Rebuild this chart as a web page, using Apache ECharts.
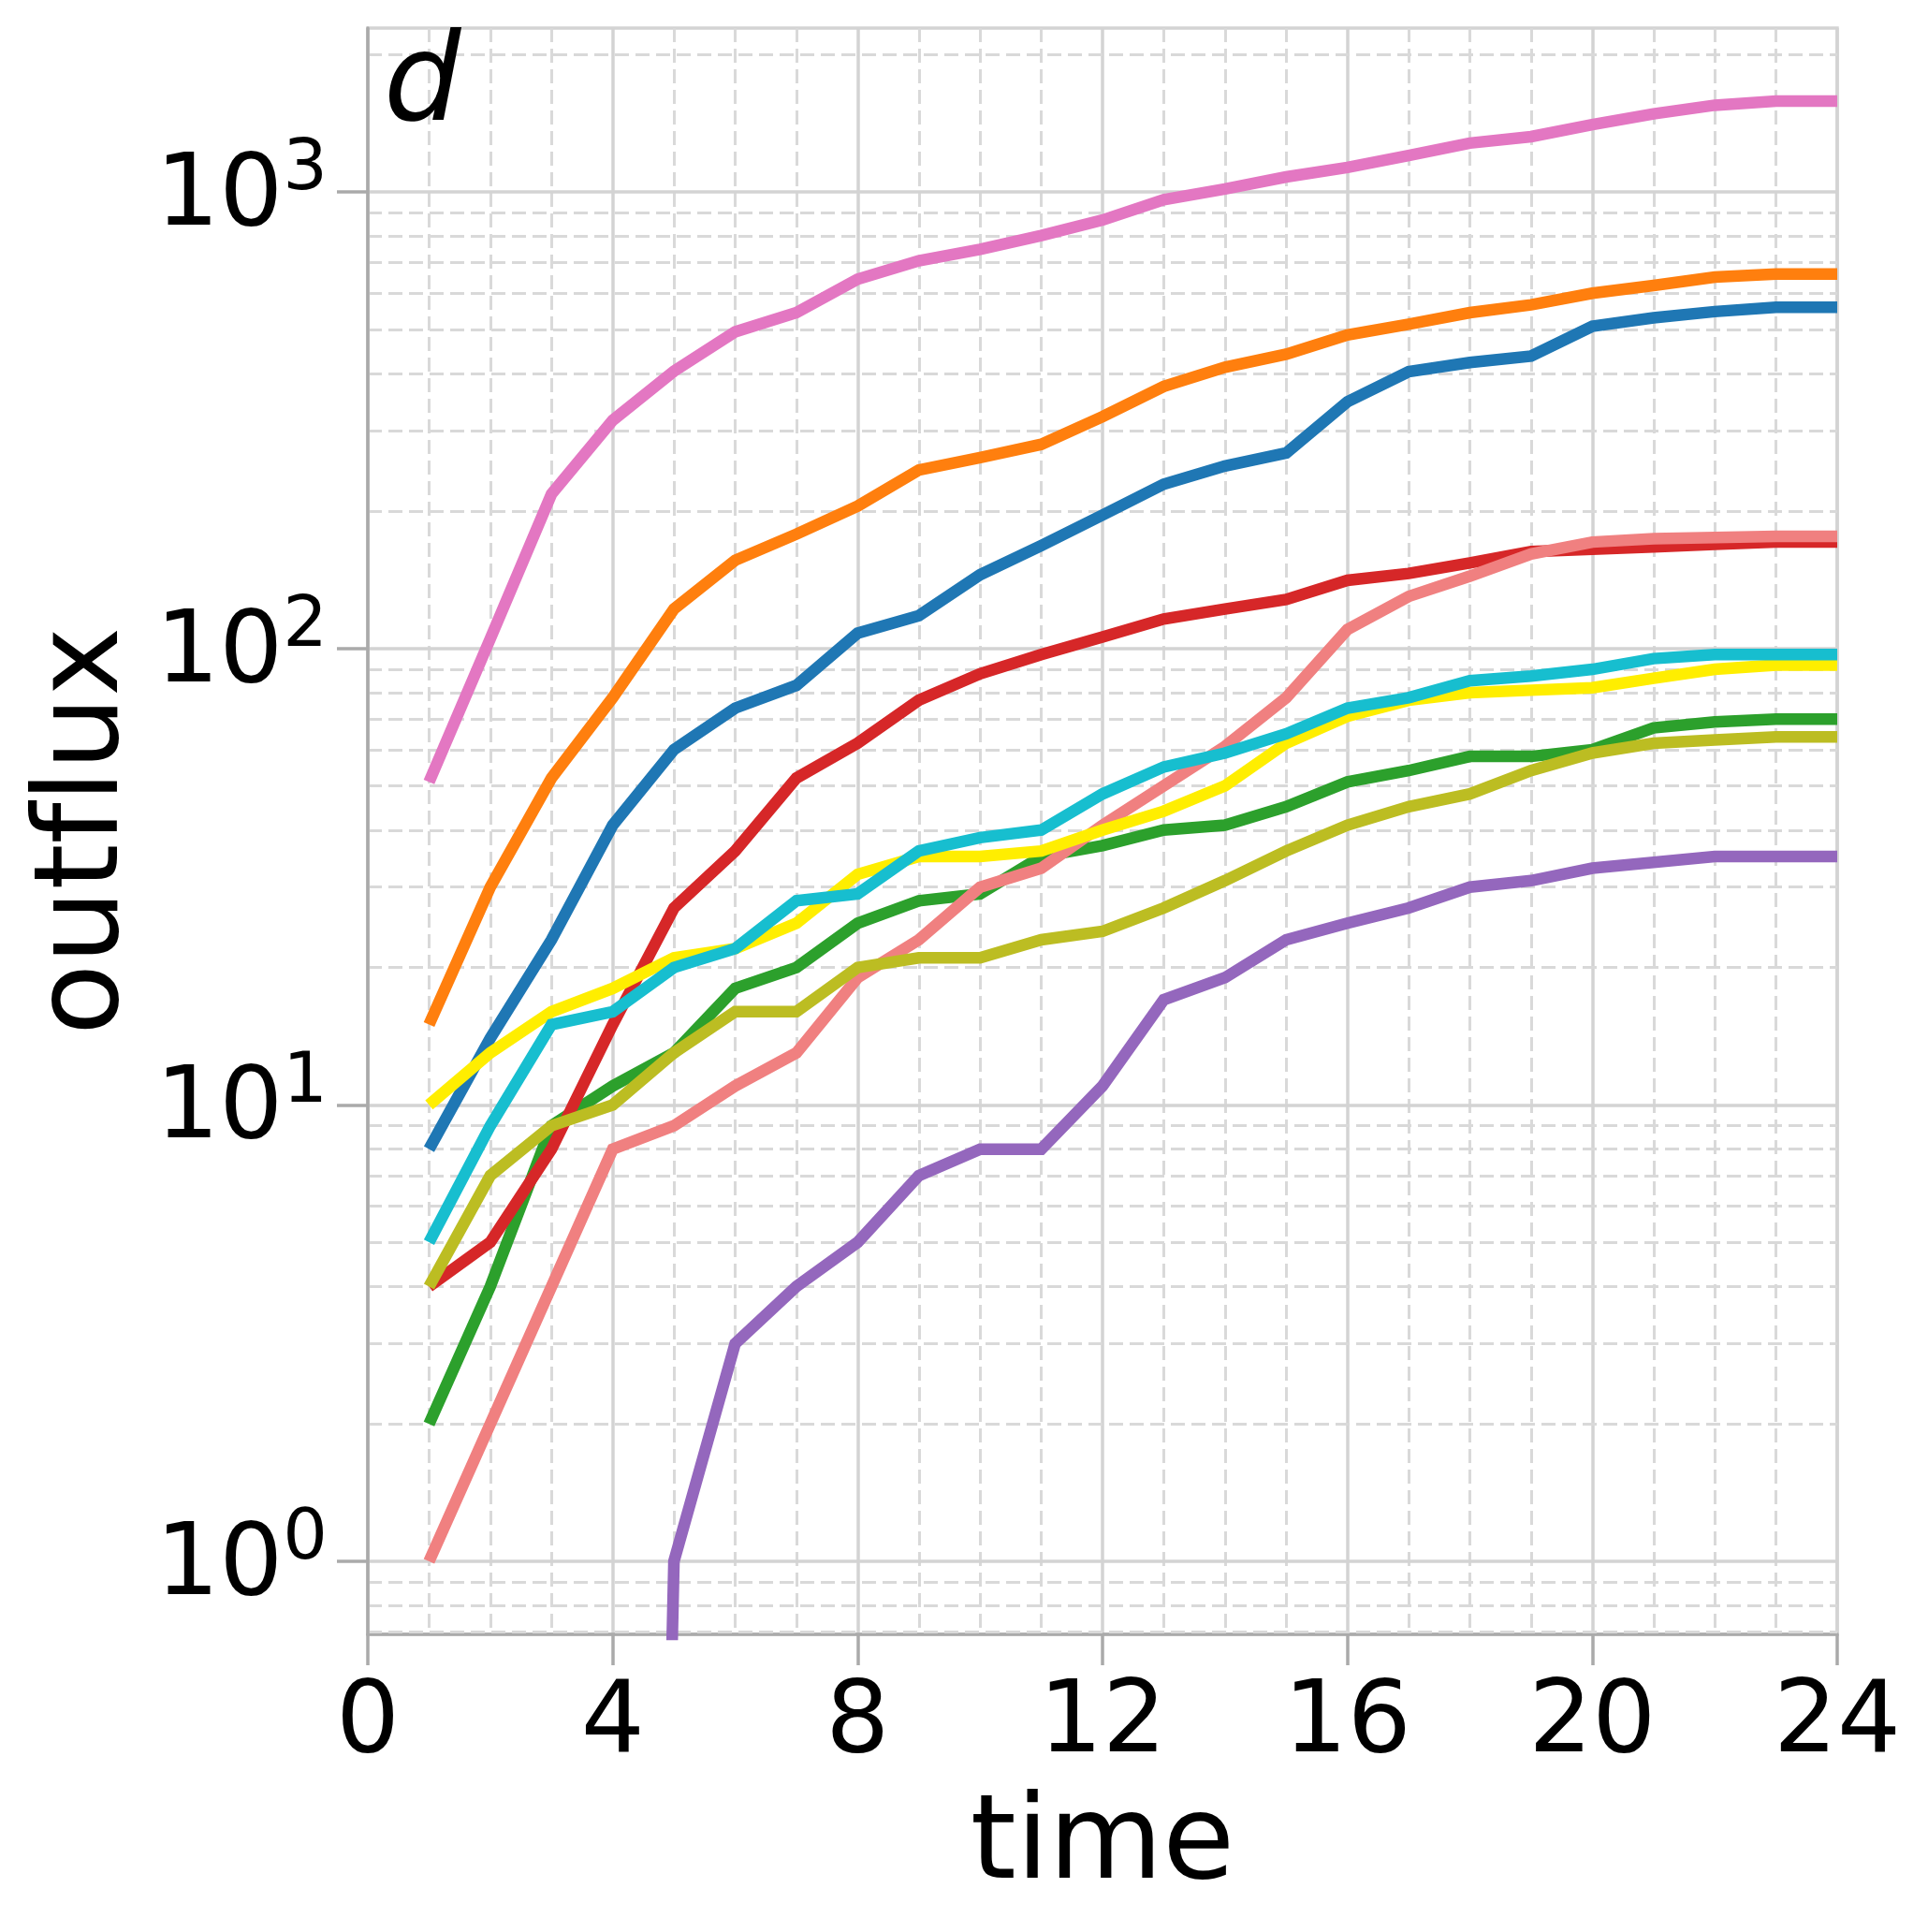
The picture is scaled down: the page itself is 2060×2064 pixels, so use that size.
<!DOCTYPE html>
<html>
<head>
<meta charset="utf-8">
<title>outflux</title>
<script src="https://cdn.jsdelivr.net/npm/echarts@6/dist/echarts.min.js"></script>
<style>
  html, body { margin: 0; padding: 0; background: #ffffff; }
  #main_chart_outflux { width: 2060px; height: 2064px; }
</style>
</head>
<body>
<div id="main_chart_outflux"></div>
<script>
var times = [1, 2, 3, 4, 5, 6, 7, 8, 9, 10, 11, 12, 13, 14, 15, 16, 17, 18, 19, 20, 21, 22, 23, 24];

var blue   = [8, 14, 23, 41, 60, 74, 83, 108, 118, 145, 168, 196, 229, 251, 268, 347, 404, 423, 437, 508, 530, 547, 559, 559];
var orange = [15, 30, 52, 78, 122, 156, 178, 205, 246, 262, 280, 322, 375, 413, 441, 486, 513, 544, 566, 600, 624, 651, 661, 661];
var green  = [2, 4, 9, 11, 13, 18, 20, 25, 28, 29, 35, 37, 40, 41, 45, 51, 54, 58, 58, 60, 67, 69, 70, 70];
var red    = [4, 5, 8, 15, 27, 36, 52, 62, 77, 88, 97, 106, 116, 122, 128, 141, 146, 154, 163, 165, 167, 169, 171, 171];
var purple = [0, 0, 0, 0, 1, 3, 4, 5, 7, 8, 8, 11, 17, 19, 23, 25, 27, 30, 31, 33, 34, 35, 35, 35];
var salmon = [1, 2, 4, 8, 9, 11, 13, 19, 23, 30, 33, 41, 50, 61, 78, 110, 130, 144, 161, 171, 174, 175, 176, 176];
var pink   = [51, 105, 218, 316, 405, 494, 544, 644, 707, 749, 803, 868, 962, 1015, 1079, 1132, 1202, 1280, 1322, 1405, 1483, 1549, 1582, 1582];
var yellow = [10, 13, 16, 18, 21, 22, 25, 32, 35, 35, 36, 40, 44, 50, 62, 71, 77, 80, 81, 82, 86, 90, 92, 92];
var olive  = [4, 7, 9, 10, 13, 16, 16, 20, 21, 21, 23, 24, 27, 31, 36, 41, 45, 48, 54, 59, 62, 63, 64, 64];
var cyan   = [5, 9, 15, 16, 20, 22, 28, 29, 36, 38.5, 40, 48, 55, 59, 65, 74, 78, 85, 87, 90, 95, 97, 97, 97];

var majorTicksY = [1, 10, 100, 1000];
var minorTicksY = [0.7, 0.8, 0.9, 2, 3, 4, 5, 6, 7, 8, 9, 20, 30, 40, 50, 60, 70, 80, 90,
                   200, 300, 400, 500, 600, 700, 800, 900, 2000];

var FONT = 'DejaVu Sans';

function load_chart_outflux() {
  var myChart = echarts.init(document.getElementById('main_chart_outflux'), null, {renderer: 'canvas'});

  // zeros on a log axis: push them far below the visible range, like matplotlib clipping
  function pairs(vals) {
    var out = [];
    for (var i = 0; i < times.length; i++) {
      out.push([times[i], vals[i] > 0 ? vals[i] : 1e-6]);
    }
    return out;
  }

  var lines = [
    {name: 'blue',   color: '#1f77b4', vals: blue},
    {name: 'orange', color: '#ff7f0e', vals: orange},
    {name: 'green',  color: '#2ca02c', vals: green},
    {name: 'red',    color: '#d62728', vals: red},
    {name: 'purple', color: '#9467bd', vals: purple},
    {name: 'salmon', color: '#f08080', vals: salmon},
    {name: 'pink',   color: '#e377c2', vals: pink},
    {name: 'yellow', color: '#ffee00', vals: yellow},
    {name: 'olive',  color: '#bcbd22', vals: olive},
    {name: 'cyan',   color: '#17becf', vals: cyan}
  ];

  var series = [];
  for (var k = 0; k < lines.length; k++) {
    series.push({
      name: lines[k].name,
      type: 'line',
      data: pairs(lines[k].vals),
      showSymbol: false,
      symbol: 'none',
      clip: true,
      silent: true,
      lineStyle: {color: lines[k].color, width: 12.5, cap: 'butt', join: 'miter'},
      itemStyle: {color: lines[k].color}
    });
  }

  var option = {
    animation: false,
    backgroundColor: '#ffffff',
    grid: {
      left: 393, right: 97, top: 30, bottom: 318,
      show: true,
      borderColor: '#d3d3d3',
      borderWidth: 3.5,
      backgroundColor: 'transparent'
    },
    graphic: [{
      type: 'text',
      left: 410,
      top: 29,
      z: 100,
      style: {
        text: 'd',
        font: 'italic 130px "DejaVu Sans"',
        fill: '#000000'
      }
    }],
    xAxis: [{
      type: 'value',
      min: 0,
      max: 24,
      interval: 4,
      name: 'time',
      nameLocation: 'middle',
      nameGap: 165,
      nameTextStyle: {fontFamily: FONT, fontSize: 125, color: '#000000'},
      axisLine: {lineStyle: {color: '#aaaaaa', width: 3.5}},
      axisTick: {show: true, inside: false, length: 33, lineStyle: {color: '#aaaaaa', width: 3.5}},
      axisLabel: {fontFamily: FONT, fontSize: 107, color: '#000000', margin: 44},
      splitLine: {show: true, lineStyle: {color: '#d3d3d3', width: 3.5}},
      minorTick: {show: false, splitNumber: 4},
      minorSplitLine: {show: true, lineStyle: {color: '#d9d9d9', width: 3, type: [15, 7]}}
    }],
    yAxis: [{
      type: 'log',
      logBase: 10,
      min: 0.692,
      max: 2286,
      position: 'left',
      // zero-width non-joiner keeps "f" and "l" apart (no ligature)
      name: 'outf\u200Clux',
      nameLocation: 'middle',
      nameGap: 214,
      nameTextStyle: {fontFamily: FONT, fontSize: 125, color: '#000000'},
      axisLine: {show: true, lineStyle: {color: '#aaaaaa', width: 3.5}},
      axisTick: {show: true, inside: false, length: 33, customValues: majorTicksY,
                 lineStyle: {color: '#aaaaaa', width: 3.5}},
      axisLabel: {
        customValues: majorTicksY,
        margin: 43,
        padding: [14, 0, 0, 0],
        formatter: function (v) {
          return '{b|10}{s|' + Math.round(Math.log(v) / Math.LN10) + '}';
        },
        rich: {
          b: {fontFamily: FONT, fontSize: 107, color: '#000000', lineHeight: 134},
          s: {fontFamily: FONT, fontSize: 75, color: '#000000', lineHeight: 75,
              verticalAlign: 'top'}
        }
      },
      splitLine: {show: true, lineStyle: {color: '#d3d3d3', width: 3.5}},
      z: 3
    }, {
      type: 'log',
      logBase: 10,
      min: 0.692,
      max: 2286,
      position: 'left',
      axisLine: {show: false},
      axisTick: {show: false, customValues: minorTicksY},
      axisLabel: {show: false, customValues: minorTicksY},
      splitLine: {show: true, lineStyle: {color: '#d9d9d9', width: 3, type: [15, 7]}},
      z: 1
    }],
    series: series
  };

  myChart.setOption(option);
}

load_chart_outflux();
</script>
</body>
</html>
